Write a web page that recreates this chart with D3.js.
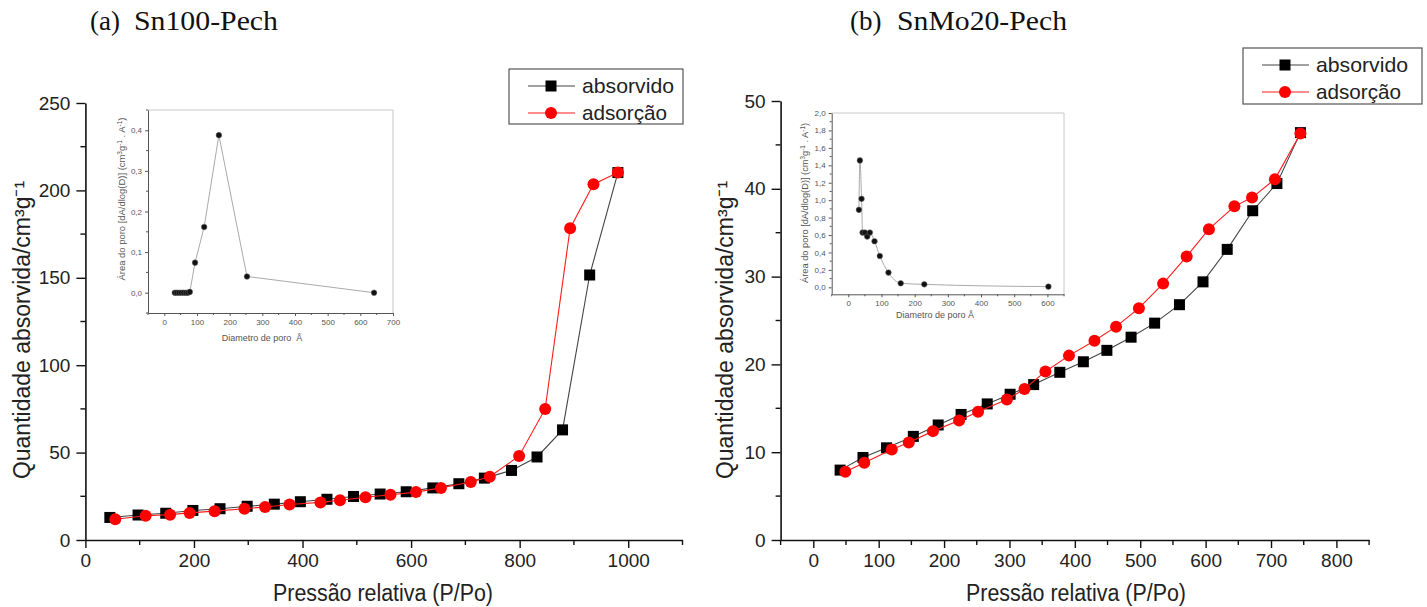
<!DOCTYPE html>
<html><head><meta charset="utf-8">
<script src="https://cdn.jsdelivr.net/npm/d3@7"></script>
<style>
body{margin:0;background:#fff}
svg{display:block}
</style>
</head><body>
<svg id="c" width="1427" height="607" font-family='"Liberation Sans",Arial,sans-serif'></svg>
<script>
// ---------- DATA ----------
const seriesNames = ["absorvido", "adsorção"];
const panelTitles = ["(a)", "Sn100-Pech", "(b)", "SnMo20-Pech"];

// Panel (a) Sn100-Pech
const aAbsX = [45,97,148,198,248,298,348,396,445,494,543,591,640,688,735,785,832,879,929,981];
const aAbsY = [12.9,14.3,15.3,16.9,17.9,19.3,20.5,21.9,23.3,24.9,26.3,27.6,29.8,32.2,35.4,39.8,47.5,63,151.6,210.2];
const aAdsX = [55,111,156,192,238,293,331,376,433,469,516,562,609,655,710,745,799,847,893,936,981];
const aAdsY = [11.9,13.9,14.5,15.5,16.5,17.9,18.9,20.3,21.5,22.7,24.5,25.9,27.4,29.8,33.2,36.2,48.1,75,178.4,203.5,210.2];
const aInsetX = [32,38,45,52,59,66,72,78,94,122,167,253,642];
const aInsetY = [0,0,0,0,0,0,0,0.002,0.074,0.162,0.388,0.040,0.0];

// Panel (b) SnMo20-Pech
const bAbsX = [41,76,112,153,191,226,266,301,337,377,413,449,486,522,560,596,633,672,709,745];
const bAbsY = [7.96,9.4,10.5,11.8,13.1,14.3,15.5,16.6,17.7,19.1,20.3,21.6,23.1,24.7,26.8,29.4,33.1,37.5,40.6,46.4];
const bAdsX = [49,78,120,146,183,223,252,296,323,355,391,430,463,498,535,571,605,644,671,706,745];
const bAdsY = [7.76,8.8,10.3,11.1,12.4,13.6,14.6,16.0,17.2,19.2,21.0,22.7,24.3,26.4,29.2,32.3,35.4,38.0,39.0,41.1,46.3];
const bInsetX = [32,35,40,43,50,57,65,79,95,121,158,229,603];
const bInsetY = [0.889,1.456,1.015,0.628,0.628,0.582,0.628,0.529,0.36,0.169,0.046,0.034,0.008];

// Tick values
const aXMajor = [0,200,400,600,800,1000];
const aXMinor = [100,300,500,700,900,1100];
const aYMajor = [0,50,100,150,200,250];
const aYMinor = [25,75,125,175,225];
const bXMajor = [0,100,200,300,400,500,600,700,800];
const bXMinor = [-50,50,150,250,350,450,550,650,750,850];
const bYMajor = [0,10,20,30,40,50];
const bYMinor = [5,15,25,35,45];
const aInXMajor = [0,100,200,300,400,500,600,700];
const aInXMinor = [-50,50,150,250,350,450,550,650];
const aInYMajor = [0,0.1,0.2,0.3,0.4];
const aInYMinor = [-0.05,0.05,0.15,0.25,0.35,0.45];
const bInXMajor = [0,100,200,300,400,500,600];
const bInXMinor = [-50,50,150,250,350,450,550,650];
const bInYMajor = [0,0.2,0.4,0.6,0.8,1.0,1.2,1.4,1.6,1.8,2.0];
const bInYMinor = [0.1,0.3,0.5,0.7,0.9,1.1,1.3,1.5,1.7,1.9];

const xTitle = "Pressão relativa (P/Po)";
const yTitle = "Quantidade absorvida/cm³g⁻¹";

// ---------- DRAW ----------
const SANS = '"Liberation Sans",Arial,sans-serif';
const SERIF = '"Liberation Serif","Times New Roman",serif';
const svg = d3.select("#c");
const comma = d => d3.format(".1f")(d).replace(".", ",");

function drawMain(cfg) {
  const x = d3.scaleLinear().domain(cfg.xDom).range(cfg.xRange);
  const y = d3.scaleLinear().domain(cfg.yDom).range(cfg.yRange);
  const g = svg.append("g");
  const gx = g.append("g").attr("transform", `translate(0,${cfg.yRange[0]})`)
    .call(d3.axisBottom(x).tickValues(cfg.xMajor).tickSize(8).tickSizeOuter(0).tickPadding(6).tickFormat(d3.format("d")));
  const gy = g.append("g").attr("transform", `translate(${cfg.xRange[0]},0)`)
    .call(d3.axisLeft(y).tickValues(cfg.yMajor).tickSize(9).tickSizeOuter(0).tickPadding(6).tickFormat(d3.format("d")));
  [gx, gy].forEach(a => {
    a.attr("font-family", SANS);
    a.select(".domain").attr("stroke", "#111").attr("stroke-width", 1.6);
    a.selectAll(".tick line").attr("stroke", "#111").attr("stroke-width", 1.4);
    a.selectAll(".tick text").attr("font-size", 19).attr("fill", "#222");
  });
  gx.selectAll(".minor").data(cfg.xMinor).enter().append("line")
    .attr("x1", d => x(d)).attr("x2", d => x(d)).attr("y1", 0).attr("y2", 5)
    .attr("stroke", "#111").attr("stroke-width", 1.4);
  gy.selectAll(".minor").data(cfg.yMinor).enter().append("line")
    .attr("y1", d => y(d)).attr("y2", d => y(d)).attr("x1", 0).attr("x2", -5)
    .attr("stroke", "#111").attr("stroke-width", 1.4);

  g.append("text").attr("transform", `translate(${cfg.yTitlePos[0]},${cfg.yTitlePos[1]}) rotate(-90)`)
    .attr("text-anchor", "middle").attr("font-size", 23).attr("fill", "#222")
    .text(yTitle);
  g.append("text").attr("x", cfg.xTitlePos[0]).attr("y", cfg.xTitlePos[1])
    .attr("text-anchor", "middle").attr("font-size", 23).attr("fill", "#222")
    .attr("textLength", 220).attr("lengthAdjust", "spacingAndGlyphs")
    .text(xTitle);

  const abs = cfg.absX.map((v, i) => [v, cfg.absY[i]]);
  const ads = cfg.adsX.map((v, i) => [v, cfg.adsY[i]]);
  const line = d3.line().x(d => x(d[0])).y(d => y(d[1]));
  g.append("path").attr("d", line(abs)).attr("fill", "none").attr("stroke", "#444").attr("stroke-width", 1.1);
  g.selectAll(".sq").data(abs).enter().append("rect")
    .attr("x", d => x(d[0]) - 5.5).attr("y", d => y(d[1]) - 5.5)
    .attr("width", 11).attr("height", 11).attr("fill", "#000");
  g.append("path").attr("d", line(ads)).attr("fill", "none").attr("stroke", "#ff1a1a").attr("stroke-width", 1.1);
  g.selectAll(".ci").data(ads).enter().append("circle")
    .attr("cx", d => x(d[0])).attr("cy", d => y(d[1])).attr("r", 6).attr("fill", "#ff0000");

  const L = cfg.legend;
  const lg = g.append("g");
  lg.append("rect").attr("x", L.x).attr("y", L.y).attr("width", L.w).attr("height", L.h)
    .attr("fill", "#fff").attr("stroke", "#555").attr("stroke-width", 1.2);
  const rows = [
    {name: seriesNames[0], color: "#444", sym: "sq", dy: 17},
    {name: seriesNames[1], color: "#ff1a1a", sym: "ci", dy: 44}
  ];
  rows.forEach(r => {
    const cy = L.y + r.dy;
    lg.append("line").attr("x1", L.x + 19).attr("x2", L.x + 66).attr("y1", cy).attr("y2", cy)
      .attr("stroke", r.color).attr("stroke-width", 1.1);
    if (r.sym === "sq") lg.append("rect").attr("x", L.x + 42 - 5.5).attr("y", cy - 5.5).attr("width", 11).attr("height", 11).attr("fill", "#000");
    else lg.append("circle").attr("cx", L.x + 42).attr("cy", cy).attr("r", 6).attr("fill", "#ff0000");
    lg.append("text").attr("x", L.x + 73).attr("y", cy + 7).attr("font-size", 21).attr("fill", "#222")
      .attr("textLength", r.sym === "sq" ? 92 : 85).attr("lengthAdjust", "spacingAndGlyphs")
      .text(r.name);
  });
}

function drawInset(cfg) {
  const x = d3.scaleLinear().domain(cfg.xDom).range(cfg.xRange);
  const y = d3.scaleLinear().domain(cfg.yDom).range(cfg.yRange);
  const g = svg.append("g");
  g.append("line").attr("x1", cfg.xRange[0]).attr("x2", cfg.xRange[1]).attr("y1", cfg.yRange[1]).attr("y2", cfg.yRange[1])
    .attr("stroke", "#c8c8c8").attr("stroke-width", 1);
  g.append("line").attr("x1", cfg.xRange[1]).attr("x2", cfg.xRange[1]).attr("y1", cfg.yRange[1]).attr("y2", cfg.yRange[0])
    .attr("stroke", "#c8c8c8").attr("stroke-width", 1);
  const gx = g.append("g").attr("transform", `translate(0,${cfg.yRange[0]})`)
    .call(d3.axisBottom(x).tickValues(cfg.xMajor).tickSize(3).tickSizeOuter(0).tickPadding(3).tickFormat(d3.format("d")));
  const gy = g.append("g").attr("transform", `translate(${cfg.xRange[0]},0)`)
    .call(d3.axisLeft(y).tickValues(cfg.yMajor).tickSize(3).tickSizeOuter(0).tickPadding(3).tickFormat(comma));
  [gx, gy].forEach(a => {
    a.attr("font-family", SANS);
    a.select(".domain").attr("stroke", "#555").attr("stroke-width", 1);
    a.selectAll(".tick line").attr("stroke", "#555");
    a.selectAll(".tick text").attr("font-size", 8).attr("fill", "#555");
  });
  gx.selectAll(".minor").data(cfg.xMinor).enter().append("line")
    .attr("x1", d => x(d)).attr("x2", d => x(d)).attr("y1", 0).attr("y2", 2).attr("stroke", "#555");
  gy.selectAll(".minor").data(cfg.yMinor).enter().append("line")
    .attr("y1", d => y(d)).attr("y2", d => y(d)).attr("x1", 0).attr("x2", -2).attr("stroke", "#555");

  const yt = g.append("text").attr("transform", `translate(${cfg.yTitlePos[0]},${cfg.yTitlePos[1]}) rotate(-90)`)
    .attr("text-anchor", "middle").attr("font-size", 9.5).attr("fill", "#555")
    .attr("textLength", cfg.yTitleLen).attr("lengthAdjust", "spacingAndGlyphs");
  yt.append("tspan").text("Área do poro [dA/dlog(D)] (cm");
  yt.append("tspan").attr("baseline-shift", "super").attr("font-size", 6.5).text("3");
  yt.append("tspan").text("g");
  yt.append("tspan").attr("baseline-shift", "super").attr("font-size", 6.5).text("-1");
  yt.append("tspan").text(" . A");
  yt.append("tspan").attr("baseline-shift", "super").attr("font-size", 6.5).text("-1");
  yt.append("tspan").text(")");
  g.append("text").attr("x", cfg.xTitlePos[0]).attr("y", cfg.xTitlePos[1])
    .attr("text-anchor", "middle").attr("font-size", 9).attr("fill", "#555")
    .attr("xml:space", "preserve").text(cfg.xTitle);

  const pts = cfg.px.map((v, i) => [v, cfg.py[i]]);
  const line = d3.line().x(d => x(d[0])).y(d => y(d[1])).curve(cfg.curve);
  g.append("path").attr("d", line(pts)).attr("fill", "none").attr("stroke", "#aaa").attr("stroke-width", 1);
  g.selectAll(".pt").data(pts).enter().append("circle")
    .attr("cx", d => x(d[0])).attr("cy", d => y(d[1])).attr("r", 2.8)
    .attr("fill", "#111").attr("stroke", "#666").attr("stroke-width", 0.5);
}

drawMain({
  xDom: [0, 1100], xRange: [85.4, 682.5], yDom: [0, 250], yRange: [540, 103],
  xMajor: aXMajor, xMinor: aXMinor, yMajor: aYMajor, yMinor: aYMinor,
  absX: aAbsX, absY: aAbsY, adsX: aAdsX, adsY: aAdsY,
  yTitlePos: [30, 330], xTitlePos: [383, 601],
  legend: {x: 509, y: 69, w: 174, h: 55}
});
drawInset({
  xDom: [-50, 700], xRange: [148, 393], yDom: [-0.05, 0.45], yRange: [313, 110],
  xMajor: aInXMajor, xMinor: aInXMinor, yMajor: aInYMajor, yMinor: aInYMinor,
  px: aInsetX, py: aInsetY, curve: d3.curveLinear,
  yTitlePos: [125, 199], yTitleLen: 163, xTitlePos: [262, 341], xTitle: "Diametro de poro  Å"
});

drawMain({
  xDom: [-50, 850], xRange: [780.6, 1369.1], yDom: [0, 50], yRange: [540, 101],
  xMajor: bXMajor, xMinor: bXMinor, yMajor: bYMajor, yMinor: bYMinor,
  absX: bAbsX, absY: bAbsY, adsX: bAdsX, adsY: bAdsY,
  yTitlePos: [733, 330], xTitlePos: [1076, 601],
  legend: {x: 1243, y: 48, w: 179, h: 56}
});
drawInset({
  xDom: [-50, 650], xRange: [831.7, 1064], yDom: [-0.08, 2.0], yRange: [294.3, 113],
  xMajor: bInXMajor, xMinor: bInXMinor, yMajor: bInYMajor, yMinor: bInYMinor,
  px: bInsetX, py: bInsetY, curve: d3.curveMonotoneX,
  yTitlePos: [808, 203], yTitleLen: 160, xTitlePos: [935, 318], xTitle: "Diametro de poro Å"
});

function title(x1, t1, x2, t2, w2) {
  svg.append("text").attr("x", x1).attr("y", 30).attr("font-family", SERIF)
    .attr("font-size", 27).attr("fill", "#111").text(t1);
  svg.append("text").attr("x", x2).attr("y", 30).attr("font-family", SERIF)
    .attr("font-size", 27).attr("fill", "#111")
    .attr("textLength", w2).attr("lengthAdjust", "spacingAndGlyphs").text(t2);
}
title(90, panelTitles[0], 134, panelTitles[1], 144);
title(850, panelTitles[2], 897, panelTitles[3], 170);
</script>
</body></html>
